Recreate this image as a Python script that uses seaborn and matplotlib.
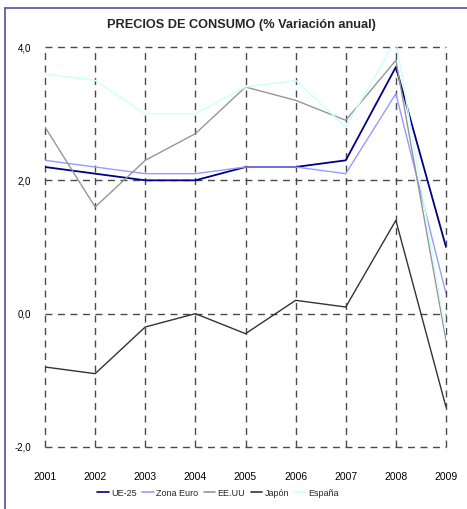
import matplotlib
matplotlib.use("Agg")
import matplotlib.pyplot as plt
import seaborn as sns
import pandas as pd
from matplotlib.lines import Line2D
from matplotlib.ticker import FuncFormatter

years = [2001, 2002, 2003, 2004, 2005, 2006, 2007, 2008, 2009]
ue25 = [2.2, 2.1, 2.0, 2.0, 2.2, 2.2, 2.3, 3.7, 1.0]
zona_euro = [2.3, 2.2, 2.1, 2.1, 2.2, 2.2, 2.1, 3.3, 0.3]
eeuu = [2.8, 1.6, 2.3, 2.7, 3.4, 3.2, 2.9, 3.8, -0.4]
japon = [-0.8, -0.9, -0.2, 0.0, -0.3, 0.2, 0.1, 1.4, -1.4]
espana = [3.6, 3.5, 3.0, 3.0, 3.4, 3.5, 2.8, 4.1, -0.3]
series_names = ["UE-25", "Zona Euro", "EE.UU", "Japón", "España"]
y_ticks = [-2.0, 0.0, 2.0, 4.0]

colors = ["#000080", "#9999FF", "#969696", "#333333", "#CCFFFF"]

rows = []
for name, vals in zip(series_names, [ue25, zona_euro, eeuu, japon, espana]):
    for yr, v in zip(years, vals):
        rows.append({"Año": yr, "Valor": v, "Serie": name})
df = pd.DataFrame(rows)

sns.set_theme(style="white")
plt.rcParams["font.family"] = ["Liberation Sans", "DejaVu Sans"]

fig = plt.figure(figsize=(4.67, 5.09), dpi=100)
ax = fig.add_axes([45 / 467, 1 - 447 / 509, (446 - 45) / 467, (447 - 47) / 509])

sns.lineplot(data=df, x="Año", y="Valor", hue="Serie", hue_order=series_names,
             palette=colors, linewidth=1.0, ax=ax, legend=False)
ax.get_lines()[0].set_linewidth(1.3)

ax.set_xlim(2001, 2009)
ax.set_ylim(-2.0, 4.0)
ax.set_xticks(years)
ax.set_yticks(y_ticks)
ax.yaxis.set_major_formatter(FuncFormatter(lambda v, p: f"{v:.1f}".replace(".", ",")))
ax.tick_params(axis="both", length=0, labelsize=7, colors="#000000")
ax.tick_params(axis="x", pad=18, labelsize=7.5)
ax.tick_params(axis="y", pad=10)
ax.set_xlabel("")
ax.set_ylabel("")
for s in ax.spines.values():
    s.set_visible(False)

for x in years:
    ax.axvline(x, color="#4a4a4a", linestyle=(0, (5, 4)), linewidth=1.0, zorder=0, clip_on=False)
for y in y_ticks:
    ax.axhline(y, color="#4a4a4a", linestyle=(0, (5, 4)), linewidth=1.0, zorder=0, clip_on=False)

fig.text(241 / 467, 1 - 25 / 509, "PRECIOS DE CONSUMO (% Variación anual)", ha="center", va="center",
         fontsize=9.2, fontweight="bold")

handles = [Line2D([0], [0], color=c, linewidth=1.2) for c in colors]
fig.legend(handles, series_names, loc="center", bbox_to_anchor=(218 / 467, 1 - 493 / 509),
           ncol=5, frameon=False, fontsize=6.5, handlelength=1.3, handletextpad=0.25,
           columnspacing=0.6)

fig.add_artist(Line2D([5 / 467, 5 / 467], [0, 1 - 8 / 509], color="#5050a0", linewidth=1.2,
                      transform=fig.transFigure))
fig.add_artist(Line2D([5 / 467, 1], [1 - 8 / 509, 1 - 8 / 509], color="#5050a0", linewidth=1.2,
                      transform=fig.transFigure))

fig.savefig("out.png", dpi=100)
